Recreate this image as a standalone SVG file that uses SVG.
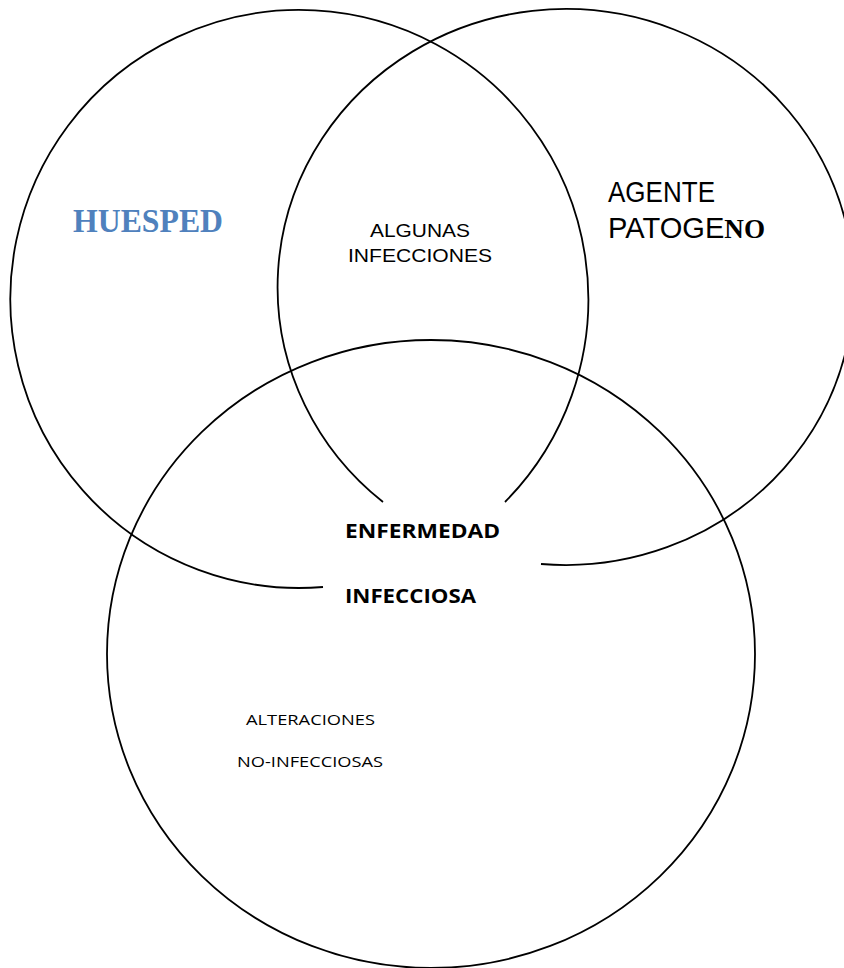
<svg xmlns="http://www.w3.org/2000/svg" width="844" height="968" viewBox="0 0 844 968">
<style>
.ring{fill:none;stroke:#000;stroke-width:1.8}
.sans{font-family:"Liberation Sans",Arial,sans-serif}
.narrow{font-family:"Liberation Sans Narrow","Liberation Sans",Arial,sans-serif}
.cal{font-family:"Open Sans","Liberation Sans",sans-serif}
</style>
<rect width="844" height="968" fill="#fff"/>
<g id="connectors">
</g>
<g id="huesped">
<path class="ring" d="M323,587 A289,289 0 1 1 505,502"/>
<text x="73" y="232" font-family="'Liberation Serif','Times New Roman',serif" font-weight="bold" font-size="34" fill="#4F81BD" textLength="150" lengthAdjust="spacingAndGlyphs">HUESPED</text>
</g>
<g id="agente">
<path class="ring" d="M383,502 A288,278 0 1 1 541,564"/>
<text class="narrow" x="608" y="202" font-size="30" textLength="107" lengthAdjust="spacingAndGlyphs">AGENTE</text>
<text class="narrow" x="608" y="238" font-size="30" textLength="157" lengthAdjust="spacingAndGlyphs">PATOGE<tspan font-family="'Liberation Serif','Times New Roman',serif" font-weight="bold" font-size="28">NO</tspan></text>
</g>
<g id="alteraciones">
<ellipse class="ring" cx="431" cy="654" rx="324" ry="314"/>
<text class="cal" x="246" y="725" font-size="15" textLength="129" lengthAdjust="spacingAndGlyphs">ALTERACIONES</text>
<text class="cal" x="237" y="767" font-size="15" textLength="146" lengthAdjust="spacingAndGlyphs">NO-INFECCIOSAS</text>
</g>
<g id="algunas">
<text class="sans" x="420" y="237" font-size="18" text-anchor="middle" textLength="100" lengthAdjust="spacingAndGlyphs">ALGUNAS</text>
<text class="sans" x="420" y="262" font-size="18" text-anchor="middle" textLength="144" lengthAdjust="spacingAndGlyphs">INFECCIONES</text>
</g>
<g id="enfermedad">
<text class="cal" x="345" y="538" font-size="20" font-weight="bold" textLength="155" lengthAdjust="spacingAndGlyphs">ENFERMEDAD</text>
<text class="cal" x="345" y="603" font-size="20" font-weight="bold" textLength="131" lengthAdjust="spacingAndGlyphs">INFECCIOSA</text>
</g>
</svg>
